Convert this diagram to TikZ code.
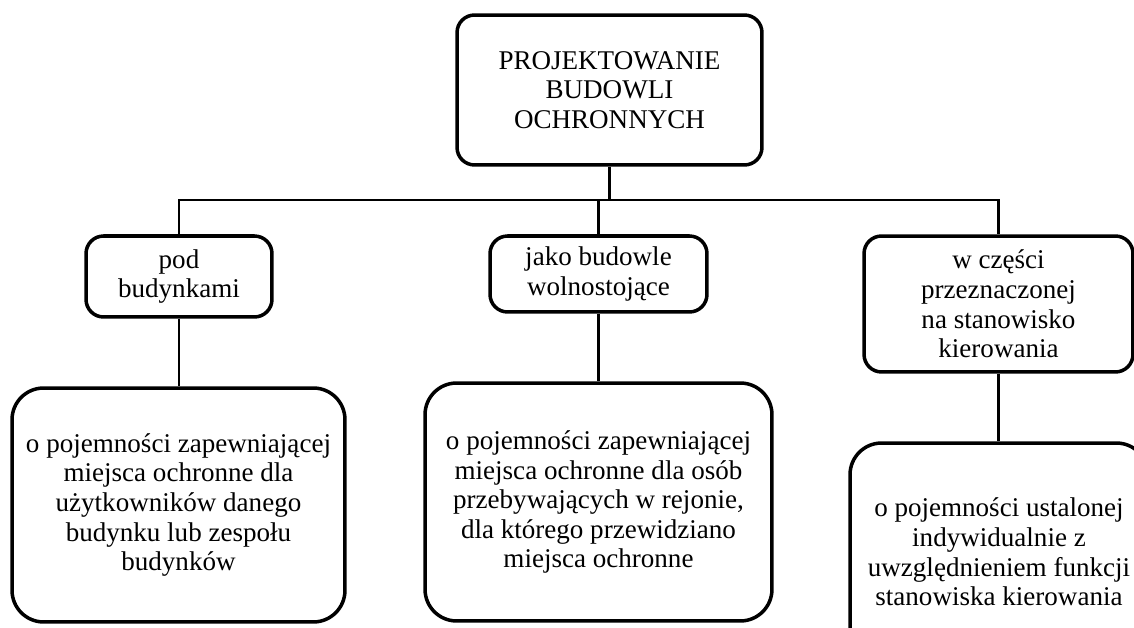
\documentclass[tikz,border=0pt]{standalone}
\usepackage{fontspec}
\setmainfont{Liberation Serif}
\usepackage{tikz}
\usetikzlibrary{positioning}

\tikzset{
  blok/.style={draw,line width=2pt,rounded corners=10pt,align=center,inner sep=2pt,
    font=\fontsize{15.4}{16.8}\selectfont},
  opis/.style={blok,rounded corners=18pt},
  linia/.style={line width=1.4pt}
}

\begin{document}
\begin{tikzpicture}[x=0.02cm,y=-0.02cm]
                    \useasboundingbox (0,0) rectangle (1134,628);
                    \clip (0,0) rectangle (1134,628);

                    \node[blok,minimum width=6.1cm,minimum height=3.0cm] (proj) at (609.5,90) {PROJEKTOWANIE\\BUDOWLI\\OCHRONNYCH};

                    \node[blok,minimum width=3.72cm,minimum height=1.62cm] (pod) at (179,276.5) {pod\\budynkami};
                    \node[blok,minimum width=4.34cm,minimum height=1.52cm] (wol) at (598.5,274) {jako budowle\\wolnostojące};
                    \node[blok,minimum width=5.38cm,minimum height=2.72cm] (kier) at (998.5,304) {w części\\przeznaczonej\\na stanowisko\\kierowania};

                    \node[opis,minimum width=6.66cm,minimum height=4.68cm] (podopis) at (178.5,505) {o pojemności zapewniającej\\miejsca ochronne dla\\użytkowników danego\\budynku lub zespołu\\budynków};
                    \node[opis,minimum width=6.94cm,minimum height=4.76cm] (wolopis) at (598.5,502) {o pojemności zapewniającej\\miejsca ochronne dla osób\\przebywających w rejonie,\\dla którego przewidziano\\miejsca ochronne};
                    \node[opis,minimum width=5.96cm,minimum height=4.36cm] (kieropis) at (999,552) {o pojemności ustalonej\\indywidualnie z\\uwzględnieniem funkcji\\stanowiska kierowania};

                    \coordinate (szyna) at (0,200);
                    \draw[linia] (proj.south) -- (proj.south |- szyna);
                    \draw[linia] (pod.north) -- (pod.north |- szyna) -| (kier.north);
                    \draw[linia] (wol.north) -- (wol.north |- szyna);

                    \draw[linia] (pod.south) -- (pod.south |- podopis.north);
                    \draw[linia] (wol.south) -- (wol.south |- wolopis.north);
                    \draw[linia] (kier.south) -- (kier.south |- kieropis.north);
                \end{tikzpicture}
\end{document}
